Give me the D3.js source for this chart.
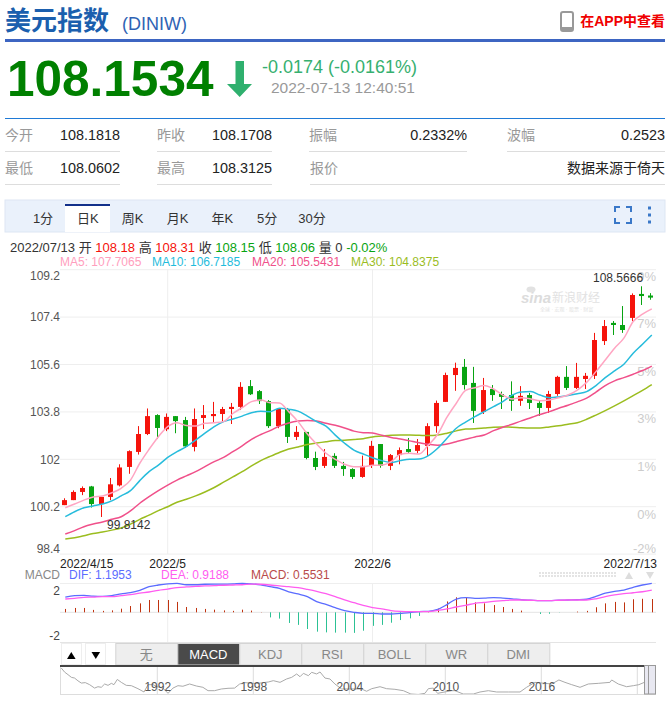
<!DOCTYPE html>
<html>
<head>
<meta charset="utf-8">
<script src="https://cdn.jsdelivr.net/npm/d3@7"></script>
<style>
  html, body { margin: 0; padding: 0; background: #fff; }
  svg { display: block; }
  text { font-family: "Liberation Sans", "Noto Sans CJK SC", sans-serif; }
</style>
</head>
<body>
<div id="chart-container"></div>
<script>
// candles, one per trading day from 2022/4/15 to 2022/7/13
const opens = [100.26,100.45,100.76,100.97,100.30,100.57,101.01,101.71,102.28,102.96,103.68,103.14,103.64,103.49,102.47,103.57,103.64,103.72,103.91,103.99,104.78,104.59,104.21,103.26,103.91,102.85,103.04,102.05,101.75,102.13,101.75,101.63,101.33,101.75,102.58,101.75,102.16,102.39,102.32,102.51,103.26,104.18,105.20,105.51,104.90,103.80,104.67,104.48,104.44,104.22,104.44,104.14,103.95,104.48,105.13,104.71,105.05,105.17,106.49,107.18,107.10,107.37,108.28,108.22];
const closes = [100.45,100.76,100.91,100.30,100.57,101.05,101.69,102.31,102.96,103.64,103.19,103.61,103.45,102.49,103.53,103.68,103.72,103.91,103.99,104.75,104.47,104.21,103.26,103.91,102.85,103.04,102.05,101.71,102.09,101.75,101.63,101.33,101.75,102.51,101.75,102.16,102.35,102.28,102.54,103.26,104.14,105.20,105.47,104.82,103.84,104.63,104.44,104.37,104.22,104.41,104.14,103.95,104.48,105.13,104.71,105.13,105.17,106.53,107.06,107.10,106.91,108.24,108.20,108.14];
const highs = [100.52,100.82,100.97,100.99,100.57,101.29,101.81,102.34,103.26,103.93,103.71,103.74,103.64,103.61,103.93,104.06,104.18,103.99,104.14,104.93,105.01,104.63,104.25,103.91,103.95,103.26,103.04,102.29,102.39,102.23,101.90,101.66,102.14,102.70,102.58,102.20,102.45,102.81,102.77,103.37,104.23,105.29,105.67,105.81,105.51,105.09,104.82,104.57,104.96,104.78,104.52,104.22,104.60,105.17,105.54,105.66,105.28,106.80,107.29,107.25,107.82,108.30,108.57,108.31];
const lows = [100.26,100.45,100.64,100.17,99.81,100.45,100.97,101.45,102.18,102.92,102.77,103.07,102.99,102.43,102.30,103.15,103.38,103.45,103.34,103.87,104.44,104.10,103.19,103.18,102.62,102.73,102.00,101.59,101.67,101.67,101.37,101.25,101.30,101.67,101.68,101.59,101.81,102.23,102.23,102.13,103.01,104.18,104.60,104.65,103.38,103.72,104.22,103.91,103.84,104.03,103.91,103.65,103.76,104.41,104.63,104.67,104.67,105.05,106.34,106.72,106.80,107.25,107.86,108.06];

const ma5 = [100.16,100.30,100.45,100.57,100.61,100.73,100.90,101.21,101.85,102.38,102.86,103.24,103.39,103.28,103.26,103.37,103.39,103.43,103.74,103.96,104.19,104.25,104.15,104.14,103.81,103.43,102.96,102.58,102.23,102.00,101.81,101.72,101.72,101.77,101.78,101.91,102.19,102.23,102.20,102.54,102.95,103.60,104.13,104.62,104.72,104.80,104.67,104.44,104.29,104.34,104.29,104.22,104.25,104.34,104.44,104.63,104.92,105.33,105.77,106.22,106.60,107.23,107.51,107.71];
const ma10 = [99.82,100.01,100.16,100.23,100.30,100.42,100.61,100.81,101.19,101.53,101.78,102.07,102.29,102.48,102.73,102.99,103.24,103.43,103.53,103.64,103.77,103.82,103.81,103.94,103.90,103.83,103.64,103.43,103.26,102.92,102.61,102.35,102.20,102.06,101.95,101.88,101.95,102.00,102.01,102.14,102.42,102.80,103.18,103.41,103.62,103.81,104.00,104.19,104.44,104.56,104.57,104.44,104.34,104.37,104.42,104.49,104.57,104.80,105.10,105.36,105.61,106.03,106.37,106.72];
const ma20 = [99.16,99.29,99.44,99.54,99.62,99.72,99.82,100.04,100.33,100.58,100.81,101.02,101.21,101.37,101.53,101.72,101.91,102.07,102.29,102.51,102.76,102.94,103.09,103.26,103.38,103.45,103.47,103.45,103.37,103.29,103.19,103.07,103.01,103.00,102.91,102.83,102.77,102.70,102.63,102.57,102.53,102.58,102.67,102.76,102.85,102.92,103.09,103.22,103.33,103.46,103.58,103.70,103.81,103.94,104.05,104.18,104.32,104.55,104.80,104.98,105.10,105.23,105.37,105.54];
const ma30 = [98.97,99.02,99.10,99.18,99.24,99.31,99.39,99.54,99.72,99.88,100.05,100.20,100.37,100.48,100.61,100.76,100.93,101.13,101.33,101.53,101.75,101.95,102.11,102.26,102.39,102.47,102.56,102.62,102.67,102.71,102.72,102.75,102.78,102.85,102.88,102.91,102.92,102.92,102.91,102.90,102.92,102.99,103.08,103.15,103.16,103.19,103.22,103.23,103.22,103.20,103.19,103.19,103.23,103.27,103.33,103.39,103.52,103.68,103.85,104.03,104.22,104.42,104.62,104.84];

const dif = [.63,.69,.70,.67,.66,.69,.76,.81,.91,1.06,1.13,1.18,1.20,1.14,1.14,1.16,1.17,1.17,1.18,1.20,1.18,1.14,1.06,.99,.85,.76,.65,.44,.33,.19,.07,0,-.04,-.04,-.07,-.07,-.04,-.01,.03,.04,.12,.32,.55,.61,.58,.59,.61,.59,.56,.52,.50,.48,.48,.50,.51,.52,.54,.66,.79,.87,.92,1.03,1.13,1.20];
const dea = [.55,.58,.62,.63,.65,.65,.69,.73,.79,.84,.91,.96,1.02,1.05,1.07,1.09,1.10,1.12,1.13,1.14,1.17,1.16,1.13,1.09,1.06,1.02,.95,.87,.77,.65,.51,.40,.29,.19,.14,.07,.04,.03,.03,.03,.08,.14,.22,.29,.37,.41,.45,.48,.51,.51,.50,.48,.48,.50,.51,.51,.51,.56,.65,.72,.77,.81,.85,.92];
const macd = [.14,.18,.18,.10,.06,.08,.15,.26,.37,.51,.51,.51,.43,.22,.18,.14,.11,.08,.06,.11,.07,.01,-.21,-.26,-.44,-.52,-.69,-.80,-.83,-.84,-.84,-.85,-.76,-.56,-.52,-.43,-.32,-.25,-.15,.01,.15,.45,.62,.61,.41,.37,.30,.22,.14,.07,0,-.07,-.06,-.01,0,.03,.06,.21,.37,.43,.41,.54,.56,.55];

// long history shown in the navigator
const navYears = [1986,1986.21,1986.42,1986.63,1986.83,1987.04,1987.25,1987.5,1987.77,1988.08,1988.29,1988.5,1988.71,1988.92,1989.13,1989.29,1989.5,1989.75,1990.06,1990.38,1990.79,1991.17,1991.42,1991.73,1992,1992.35,1992.67,1992.98,1993.29,1993.6,1994.02,1994.44,1994.85,1995.17,1995.58,1996,1996.42,1996.83,1997.15,1997.46,1998.2,1998.94,1999.25,1999.67,2000.08,2000.4,2000.71,2000.92,2001.13,2001.44,2001.65,2001.96,2002.17,2002.48,2002.79,2003.1,2003.52,2004.77,2005.08,2005.4,2005.92,2006.33,2006.85,2007.38,2007.85,2008.31,2008.73,2008.94,2009.25,2009.52,2010.4,2010.6,2011.12,2011.75,2012.17,2012.69,2013.21,2013.94,2014.67,2015.08,2015.6,2016.65,2017.1,2017.48,2017.9,2018.42,2018.94,2019.56,2020.29,2020.4,2020.81,2021.33,2021.75,2022.1,2022.44];
const navValues = [128,119,113.5,107.6,106,100,95,96,91.5,84,87,85.7,93,90,94.4,91.5,103,96.6,90,89.3,82.7,75.4,91.5,91.5,87,84,72.5,84,89.3,88,93,88.6,85.7,78.3,78.3,82,83.5,84,93,96,94,97.4,100.3,96.6,104,107.6,115,109,116.4,111.3,118.6,115,119.4,106,104,93,82,82,77,82.7,87,82.7,81.3,78.3,71,70,72.5,82.7,84,72.5,78.3,78.3,71,71,75.4,78.3,75.4,75.4,75.4,85.7,96.6,93,101.8,96.6,91.5,85.7,93,94.4,96.6,101.8,93,87,89.3,91.5,96.6];
const navTicks = [1992,1998,2004,2010,2016,2022];

const priceTicks = ["109.2","107.4","105.6","103.8","102","100.2","98.4"];
const pctLabels = ["9%","7%","5%","3%","1%","0%","-2%"];
const dateLabels = ["2022/4/15","2022/5","2022/6","2022/7/13"];
const monthStarts = [11, 33];   // bar index of 2022/5 and 2022/6
const intervals = ["1分","日K","周K","月K","年K","5分","30分"];
const indicators = ["无","MACD","KDJ","RSI","BOLL","WR","DMI"];

const width = 669, height = 705;
const RED = "#f5130b", GREEN = "#08a412";

const svg = d3.select("#chart-container").append("svg")
    .attr("width", width)
    .attr("height", height);

function label(str, x, y, size, fill, anchor) {
  return svg.append("text")
      .attr("x", x).attr("y", y)
      .attr("dy", "0.35em")
      .attr("font-size", size)
      .attr("fill", fill)
      .attr("text-anchor", anchor || "start")
      .text(str);
}

function hline(x1, x2, y, color, w) {
  svg.append("line").attr("x1", x1).attr("x2", x2).attr("y1", y).attr("y2", y)
      .attr("stroke", color).attr("stroke-width", w || 1);
}

function vline(x, y1, y2, color) {
  svg.append("line").attr("x1", x).attr("x2", x).attr("y1", y1).attr("y2", y2)
      .attr("stroke", color);
}

// Page header
label("美元指数", 5, 21, 26, "#1b5fae").attr("font-weight", "bold");
label("(DINIW)", 122, 24, 18, "#2f63b4");
svg.append("rect").attr("x", 561).attr("y", 12).attr("width", 12).attr("height", 19).attr("rx", 2)
    .attr("fill", "none").attr("stroke", "#999").attr("stroke-width", 2);
svg.append("rect").attr("x", 561).attr("y", 27).attr("width", 12).attr("height", 4).attr("rx", 1).attr("fill", "#999");
label("在APP中查看", 665, 21, 14, "#f00000", "end").attr("font-weight", "bold");
svg.append("rect").attr("x", 5).attr("y", 39).attr("width", 660).attr("height", 3).attr("fill", "#3d65c2");

label("108.1534", 7, 79, 49.500, "#008000").attr("font-weight", "bold");
svg.append("path").attr("d", "M235.5 61h8.5v23h8l-12.3 13-12.7-13h8.500z").attr("fill", "#2fb06e");
label("-0.0174 (-0.0161%)", 262, 67, 18, "#36b070");
label("2022-07-13 12:40:51", 271, 88, 15.500, "#999");
hline(5, 665, 118.5, "#1f7ad6");

// Quote table
const table = [
  ["今开", "108.1818", 5, 120, 135],
  ["昨收", "108.1708", 157, 272, 135],
  ["振幅", "0.2332%", 309, 467, 135],
  ["波幅", "0.2523", 507, 665, 135],
  ["最低", "108.0602", 5, 120, 168],
  ["最高", "108.3125", 157, 272, 168],
  ["报价", "数据来源于倚天", 310, 665, 168]
];
table.forEach(([name, value, x1, x2, y]) => {
  label(name, x1, y, 14, "#999");
  label(value, x2, y, name == "报价" ? 14 : 14.400, "#222", "end");
  hline(x1, x2, y + 16.500, "#ddd");
});

// Interval tabs
svg.append("rect").attr("x", 5).attr("y", 200).attr("width", 660).attr("height", 32)
    .attr("fill", "#eaf1fb").attr("stroke", "#dde6f3");
svg.append("rect").attr("x", 65).attr("y", 204).attr("width", 45).attr("height", 28).attr("fill", "#fff");
svg.append("rect").attr("x", 65).attr("y", 204).attr("width", 45).attr("height", 2).attr("fill", "#12308a");
const tabX = d3.scalePoint().domain(intervals).range([43, 312]);
intervals.forEach(d => label(d, tabX(d), 218, 13, "#333", "middle"));
svg.append("path")
    .attr("d", "M615 212v-5h5M626 207h5v5M631 218v5h-5M620 223h-5v-5")
    .attr("fill", "none").attr("stroke", "#3a78c8").attr("stroke-width", 2);
[208, 215, 222].forEach(y => svg.append("rect").attr("x", 648).attr("y", y - 1.500).attr("width", 3).attr("height", 3).attr("fill", "#3a78c8"));

// Day info rows
const info = svg.append("text").attr("x", 10).attr("y", 247).attr("dy", "0.35em").attr("font-size", 13);
[["2022/07/13 开 ", "#333"], ["108.18", RED], [" 高 ", "#333"], ["108.31", RED], [" 收 ", "#333"], ["108.15", GREEN],
 [" 低 ", "#333"], ["108.06", GREEN], [" 量 0 ", "#333"], ["-0.02%", GREEN]]
  .forEach(([s, c]) => info.append("tspan").attr("fill", c).text(s));
label("MA5: 107.7065", 60, 262, 12, "#ff9ebd");
label("MA10: 106.7185", 152, 262, 12, "#1fbcdc");
label("MA20: 105.5431", 252, 262, 12, "#f0508a");
label("MA30: 104.8375", 351, 262, 12, "#9bbd1f");

// Scales for the price panel
const xCandle = d3.scaleLinear().domain([0, opens.length - 1]).range([63.5, 650.3]);
const xBar = d3.scaleLinear().domain([0, opens.length - 1]).range([65.3, 651.8]);
const y = d3.scaleLinear().domain([102, 109.2]).range([459.3, 269.7]);
const left = 60, right = 656;

// Grid
priceTicks.forEach(t => hline(left, right, y(+t), "#eee"));
monthStarts.forEach(i => vline(xBar(i), 269, 554, "#eee"));
priceTicks.forEach((t, i) => {
  const yy = i == 0 ? y(+t) + 6.500 : i == priceTicks.length - 1 ? y(+t) - 5 : y(+t);
  label(t, left, yy, 12, "#555", "end");
});
const pctY = d3.scalePoint().domain(pctLabels.slice(0, 6)).range([276, 514]);
pctLabels.forEach(t => label(t, right, t == "-2%" ? 548 : pctY(t), 13, "#ccc", "end"));

// Watermark
svg.append("ellipse").attr("cx", 531).attr("cy", 289.500).attr("rx", 4.500).attr("ry", 3).attr("fill", "#e2e2e2");
label("sina", 521, 298, 15, "#dcdcdc").attr("font-weight", "bold").attr("font-style", "italic");
label("新浪财经", 552, 298, 12, "#e2e2e2");
label("全球 · 宏观 · 股票 · 财富", 540, 309, 5, "#e2e2e2");

// Candles
const idx = d3.range(opens.length);
svg.append("g").selectAll("line").data(idx).join("line")
    .attr("x1", i => Math.round(xCandle(i)) + 0.5)
    .attr("x2", i => Math.round(xCandle(i)) + 0.5)
    .attr("y1", i => y(highs[i]))
    .attr("y2", i => y(lows[i]))
    .attr("stroke", i => closes[i] >= opens[i] ? RED : GREEN);
svg.append("g").selectAll("rect").data(idx).join("rect")
    .attr("x", i => Math.round(xCandle(i)) - 2)
    .attr("width", 5)
    .attr("y", i => y(Math.max(opens[i], closes[i])))
    .attr("height", i => Math.max(1.500, Math.abs(y(opens[i]) - y(closes[i]))))
    .attr("fill", i => closes[i] >= opens[i] ? RED : GREEN);

// Moving averages
const maLine = d3.line().x((d, i) => xBar(i)).y(d => y(d)).curve(d3.curveMonotoneX);
[[ma30, "#9bbd1f"], [ma20, "#f0508a"], [ma10, "#27bcdc"], [ma5, "#ffa5c2"]].forEach(([series, color]) => {
  svg.append("path").datum(series).attr("d", maLine)
      .attr("fill", "none").attr("stroke", color).attr("stroke-width", 1.500);
});

label("108.5666", 593, 278, 12, "#333");
label("99.8142", 107, 525, 12, "#333");

// Date axis
label(dateLabels[0], left, 563.500, 12, "#222");
label(dateLabels[1], xBar(monthStarts[0]), 563.500, 12, "#222", "middle");
label(dateLabels[2], xBar(monthStarts[1]), 563.500, 12, "#222", "middle");
label(dateLabels[3], 657, 563.500, 12, "#222", "end");

// MACD panel
const yM = d3.scaleLinear().domain([-1.24, 1.2]).range([642.3, 583.3]);
hline(left, right, 583.5, "#eee");
hline(left, right, yM(0), "#e4e4e4");
hline(left, right, 642.5, "#e4e4e4");
monthStarts.forEach(i => vline(xBar(i), 583, 642, "#eee"));

label("MACD", left, 575, 12, "#888", "end");
label("DIF: 1.1953", 69, 575, 12, "#5b6cff");
label("DEA: 0.9188", 161, 575, 12, "#ff5cf0");
label("MACD: 0.5531", 251, 575, 12, "#b94a4a");
label("2", left, 591, 12, "#444", "end");
label("-2", left, 636, 12, "#444", "end");

// dotted handle and the two scroll arrows of the panel
d3.range(539, 616, 3).forEach(dx => [572, 575].forEach(dy => {
  svg.append("rect").attr("x", dx).attr("y", dy).attr("width", 2).attr("height", 2).attr("fill", "#e4e4e4");
}));
svg.append("path").attr("d", "M625 579l4-7 4 7z").attr("fill", "#ddd");
svg.append("path").attr("d", "M646 572h8l-4 7z").attr("fill", "#ddd");

svg.append("g").selectAll("line").data(idx).join("line")
    .attr("x1", i => Math.round(xBar(i)) + 0.5)
    .attr("x2", i => Math.round(xBar(i)) + 0.5)
    .attr("y1", yM(0))
    .attr("y2", i => yM(macd[i]))
    .attr("stroke", i => macd[i] >= 0 ? "#c0330f" : "#2cc194");

const difLine = d3.line().x((d, i) => xBar(i)).y(d => yM(d)).curve(d3.curveMonotoneX);
svg.append("path").datum(dif).attr("d", difLine).attr("fill", "none").attr("stroke", "#5b6cff").attr("stroke-width", 1.300);
svg.append("path").datum(dea).attr("d", difLine).attr("fill", "none").attr("stroke", "#ff5cf0").attr("stroke-width", 1.300);

// Arrow buttons and indicator tabs
[61, 85].forEach(x => svg.append("rect").attr("x", x + 0.5).attr("y", 643.5).attr("width", 20).attr("height", 21)
    .attr("fill", "#fff").attr("stroke", "#eee"));
svg.append("path").attr("d", "M67 659l4.300-7 4.300 7z").attr("fill", "#000");
svg.append("path").attr("d", "M91.500 652h8.600l-4.300 7z").attr("fill", "#000");

const tabBand = d3.scaleBand().domain(indicators).range([115.3, 549.3]);
indicators.forEach(d => {
  const active = d == "MACD";
  svg.append("rect").attr("x", tabBand(d) + 0.5).attr("y", 643.5)
      .attr("width", tabBand.bandwidth()).attr("height", 21.500)
      .attr("fill", active ? "#4a4a4a" : "#eee").attr("stroke", "#d4d4d4");
  label(d, tabBand(d) + tabBand.bandwidth() / 2, 654.500, 13, active ? "#fff" : "#888", "middle");
});

// Navigator
const xNav = d3.scaleLinear().domain([1992, 2016]).range([157.3, 541.3]);
const yNav = d3.scaleLinear().domain([71, 120]).range([694, 671.700]);
navTicks.forEach(t => vline(xNav(t), 667, 694, "#ddd"));
svg.append("path").datum(navValues)
    .attr("d", d3.line().x((d, i) => xNav(navYears[i])).y(d => yNav(d)))
    .attr("fill", "none").attr("stroke", "#aaa");
navTicks.slice(0, 5).forEach(t => label(t, xNav(t) + 0.5, 687, 12, "#555", "middle"));
hline(left, right, 694.500, "#ddd");
vline(60.5, 666, 694, "#ddd");
svg.append("rect").attr("x", left).attr("y", 665).attr("width", 584).attr("height", 2).attr("fill", "#444");
svg.append("rect").attr("x", 644.500).attr("y", 665.500).attr("width", 11).attr("height", 28.500)
    .attr("fill", "rgba(190,190,215,0.35)").attr("stroke", "#999");
vline(648.5, 666, 694, "#999");
</script>
</body>
</html>
